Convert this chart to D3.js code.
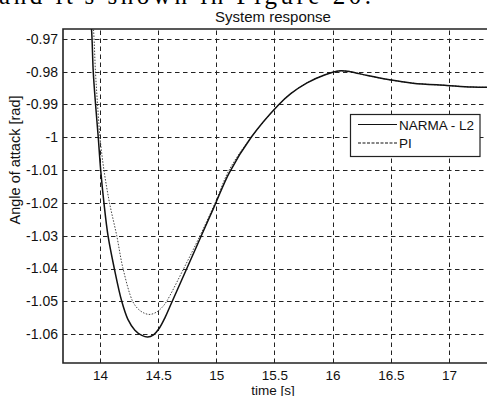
<!DOCTYPE html>
<html>
<head>
<meta charset="utf-8">
<script src="https://cdn.jsdelivr.net/npm/d3@7"></script>
<style>
  html, body { margin: 0; padding: 0; background: #fff; }
  svg { display: block; }
  text { font-family: "Liberation Sans", Arial, Helvetica, sans-serif; fill: #111; }
</style>
</head>
<body>
<svg id="chart" width="487" height="396"></svg>
<script>
// Time samples and responses for the two controllers
const narmaTime = [13.905, 13.927, 13.942, 13.962, 13.985, 14.006, 14.034, 14.069, 14.123, 14.187,
  14.24, 14.30, 14.36, 14.41, 14.46, 14.51, 14.56, 14.61, 14.75, 14.87, 14.99, 15.11, 15.30,
  15.53, 15.64, 15.78, 15.93, 16.05, 16.15, 16.3, 16.49, 16.69, 16.98, 17.2, 17.4];
const narmaValue = [-0.960, -0.967, -0.980, -0.990, -1.000, -1.010, -1.020, -1.030, -1.040, -1.050,
  -1.0555, -1.0588, -1.0604, -1.0609, -1.0602, -1.0582, -1.0549, -1.0509, -1.0397, -1.0301, -1.0205, -1.0109, -1.000,
  -0.9903, -0.9867, -0.9834, -0.9810, -0.9798, -0.9800, -0.9812, -0.9825, -0.9835, -0.9842, -0.9847, -0.9848];

const piTime = [13.92, 13.944, 13.961, 13.979, 14.0, 14.034, 14.082, 14.144, 14.198, 14.281,
  14.33, 14.38, 14.43, 14.49, 14.535, 14.573, 14.72, 14.86, 14.99, 15.11, 15.30,
  15.53, 15.64, 15.78, 15.93, 16.05, 16.15, 16.3, 16.49, 16.69, 16.98, 17.2, 17.4];
const piValue = [-0.959, -0.967, -0.980, -0.990, -1.000, -1.010, -1.020, -1.030, -1.040, -1.050,
  -1.0524, -1.0536, -1.0540, -1.0532, -1.0518, -1.050, -1.040, -1.030, -1.020, -1.010, -1.000,
  -0.9903, -0.9867, -0.9834, -0.9810, -0.9798, -0.9800, -0.9812, -0.9825, -0.9835, -0.9842, -0.9847, -0.9848];

const xTicks = [14, 14.5, 15, 15.5, 16, 16.5, 17];
const yTicks = [-0.97, -0.98, -0.99, -1, -1.01, -1.02, -1.03, -1.04, -1.05, -1.06];
const seriesNames = ["NARMA - L2", "PI"];

const svg = d3.select("#chart");
const plot = { left: 63, top: 29, right: 490, bottom: 363 };

const x = d3.scaleLinear().domain([13.682, 17.353]).range([plot.left, plot.right]);
const y = d3.scaleLinear().domain([-1.0688, -0.967]).range([plot.bottom, plot.top]);

// Line of running text above the figure
svg.append("text")
  .attr("x", -1).attr("y", 4)
  .attr("textLength", 372).attr("lengthAdjust", "spacing")
  .style("font-family", "'Liberation Serif', 'Times New Roman', serif")
  .style("font-size", "25px")
  .style("fill", "#000")
  .text("and it's shown in Figure 20.");

svg.append("defs").append("clipPath").attr("id", "plot-clip")
  .append("rect")
  .attr("x", plot.left).attr("y", plot.top)
  .attr("width", plot.right - plot.left).attr("height", plot.bottom - plot.top);

// Dashed grid
const grid = svg.append("g").attr("stroke", "#222").attr("stroke-width", 1).attr("stroke-dasharray", "4.5,3.5");
grid.selectAll(".gx").data(xTicks).join("line")
  .attr("x1", d => Math.round(x(d)) + 0.5).attr("x2", d => Math.round(x(d)) + 0.5)
  .attr("y1", plot.bottom).attr("y2", plot.top);
grid.selectAll(".gy").data(yTicks).join("line")
  .attr("y1", d => Math.round(y(d)) + 0.5).attr("y2", d => Math.round(y(d)) + 0.5)
  .attr("x1", plot.left).attr("x2", plot.right);

// Axes
const xAxis = d3.axisBottom(x).tickValues(xTicks).tickSize(0).tickPadding(7.5)
  .tickFormat(d => String(d));
const yAxis = d3.axisLeft(y).tickValues(yTicks).tickSize(0).tickPadding(5)
  .tickFormat(d => String(d));

const gx = svg.append("g").attr("transform", `translate(0,${plot.bottom})`).call(xAxis);
const gy = svg.append("g").attr("transform", `translate(${plot.left},0)`).call(yAxis);
gx.selectAll("text").style("font-size", "13.5px");
gy.selectAll("text").style("font-size", "14px");
[gx, gy].forEach(g => {
  g.select(".domain").remove();
  g.selectAll("text").style("font-family", "'Liberation Sans', Arial, sans-serif").attr("fill", "#111");
});

// Plot frame (right edge lies beyond the window)
svg.append("path")
  .attr("d", `M${plot.right},${plot.top}H${plot.left}V${plot.bottom}H${plot.right}`)
  .attr("fill", "none").attr("stroke", "#222").attr("stroke-width", 1.6);

// Response curves
const line = d3.line().x(d => x(d[0])).y(d => y(d[1])).curve(d3.curveCatmullRom.alpha(0.5));
const curves = svg.append("g").attr("clip-path", "url(#plot-clip)");
curves.append("path")
  .datum(piTime.map((t, i) => [t, piValue[i]]))
  .attr("d", line).attr("fill", "none").attr("stroke", "#444")
  .attr("stroke-width", 1).attr("stroke-dasharray", "1.5,1.5");
curves.append("path")
  .datum(narmaTime.map((t, i) => [t, narmaValue[i]]))
  .attr("d", line).attr("fill", "none").attr("stroke", "#111")
  .attr("stroke-width", 1.5);

// Title and axis labels
svg.append("text").attr("x", 273).attr("y", 22).attr("text-anchor", "middle")
  .style("font-size", "15px").text("System response");
svg.append("text").attr("x", 273).attr("y", 395).attr("text-anchor", "middle")
  .style("font-size", "13.5px").text("time [s]");
svg.append("text").attr("transform", "translate(20,160) rotate(-90)").attr("text-anchor", "middle")
  .style("font-size", "14.5px").text("Angle of attack [rad]");

// Legend
const legend = svg.append("g");
legend.append("rect").attr("x", 350.5).attr("y", 114.5).attr("width", 129.5).attr("height", 42)
  .attr("fill", "#fff").attr("stroke", "#222").attr("stroke-width", 1.2);
const dashes = [null, "3,1.5"];
seriesNames.forEach((name, i) => {
  const ly = 124.5 + i * 18.5;
  legend.append("line").attr("x1", 358).attr("x2", 397).attr("y1", ly).attr("y2", ly)
    .attr("stroke", "#111").attr("stroke-width", 1.2)
    .attr("stroke-dasharray", dashes[i]);
  legend.append("text").attr("x", 399).attr("y", ly + 5)
    .style("font-size", "13.5px").text(name);
});
</script>
</body>
</html>
